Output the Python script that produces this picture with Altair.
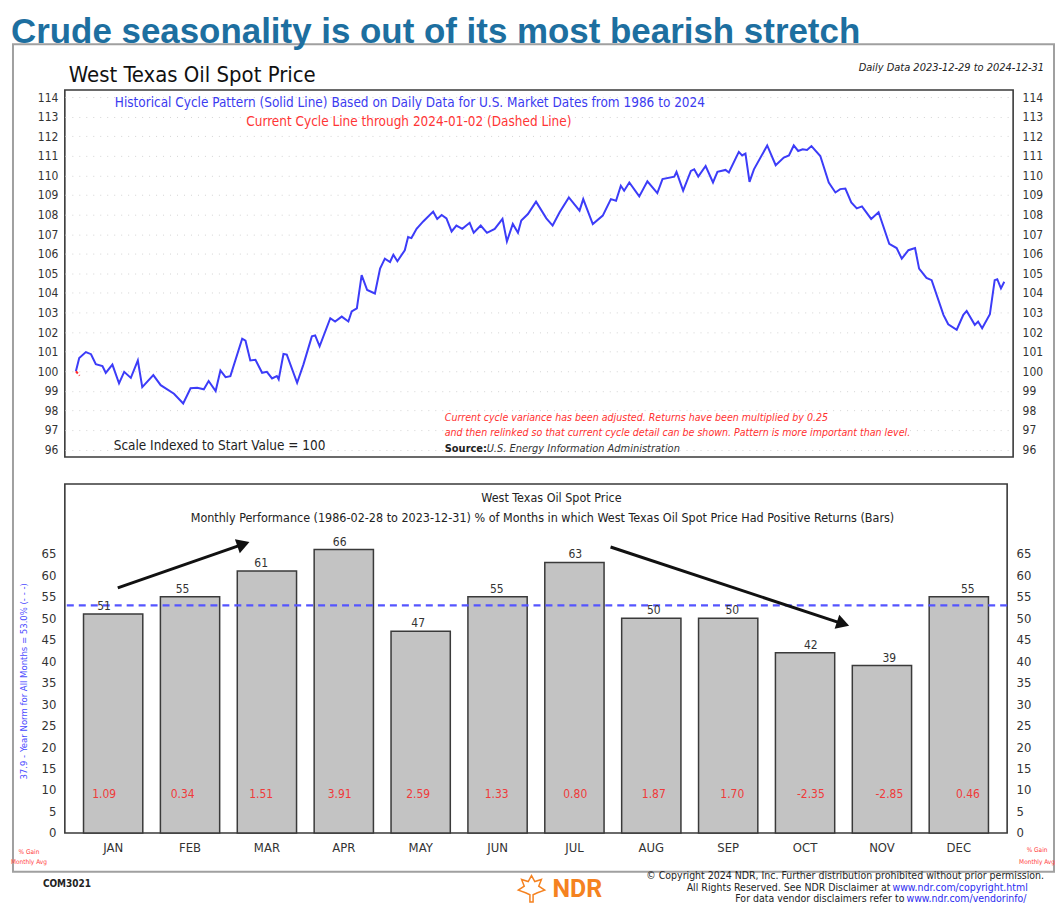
import math
import altair as alt
import pandas as pd

NARROW = "Liberation Sans Narrow, Arial Narrow, DejaVu Sans Condensed, sans-serif"
HEAD = "Liberation Sans"

# ---------------- data: historical cycle (trading-day index, indexed value) ----------------
line_idx = [
    0.0, 0.9, 2.7, 4.1, 5.4, 7.2, 8.1, 9.9, 11.7, 13.1,
    14.9, 16.8, 18.0, 21.0, 23.0, 26.6, 29.1, 31.1, 32.9, 34.7,
    36.0, 37.9, 39.2, 40.6, 41.9, 45.1, 46.0, 47.3, 48.7, 50.5,
    51.8, 53.2, 54.5, 55.0, 56.3, 57.2, 60.0, 61.7, 64.0, 64.9,
    66.1, 69.0, 70.3, 72.1, 73.9, 74.8, 76.2, 77.5, 79.0, 81.1,
    82.5, 83.8, 85.2, 86.1, 87.2, 89.2, 90.1, 91.0, 92.4, 94.2,
    96.9, 98.0, 99.2, 100.5, 101.9, 103.2, 104.8, 106.8, 107.9, 109.8,
    111.5, 113.6, 115.7, 116.9, 118.5, 119.9, 120.8, 122.6, 124.8, 127.6,
    129.3, 131.2, 133.7, 136.6, 137.6, 140.2, 142.9, 145.1, 146.5, 147.8,
    148.7, 150.1, 152.8, 155.0, 157.7, 159.1, 162.3, 162.9, 164.7, 166.8,
    167.7, 168.8, 170.8, 172.8, 174.0, 176.2, 177.1, 179.8, 180.7, 181.6,
    182.7, 183.9, 187.5, 189.8, 192.0, 193.4, 194.7, 195.9, 197.1, 198.3,
    199.5, 201.9, 204.2, 206.0, 207.3, 208.7, 210.3, 211.8, 213.2, 215.7,
    217.7, 220.6, 222.6, 224.0, 225.8, 227.6, 228.7, 230.7, 232.1, 235.3,
    236.6, 238.9, 240.7, 241.6, 243.8, 244.7, 245.8, 247.9, 249.2, 249.9,
    250.9, 251.8,
]
line_val = [
    100.00, 100.68, 100.98, 100.87, 100.36, 100.26, 99.92, 100.34, 99.38, 99.97,
    99.66, 100.55, 99.19, 99.80, 99.29, 98.85, 98.35, 99.13, 99.16, 99.08,
    99.50, 98.99, 100.04, 99.70, 99.75, 101.66, 101.56, 100.55, 100.58, 99.92,
    99.97, 99.63, 99.75, 99.58, 100.88, 100.85, 99.41, 100.34, 101.78, 101.83,
    101.27, 102.71, 102.54, 102.79, 102.54, 103.05, 103.21, 104.91, 104.15, 103.97,
    105.24, 105.75, 105.58, 105.95, 105.62, 106.18, 106.85, 106.80, 107.27, 107.65,
    108.15, 107.78, 107.98, 107.81, 107.14, 107.44, 107.27, 107.58, 107.07, 107.44,
    107.07, 107.27, 107.78, 106.63, 107.52, 107.07, 107.70, 108.03, 108.66, 107.81,
    107.44, 108.12, 108.88, 108.20, 108.79, 107.52, 107.95, 108.79, 108.71, 109.47,
    109.22, 109.64, 108.93, 109.70, 109.10, 109.81, 109.94, 110.18, 109.22, 110.23,
    110.31, 109.94, 110.48, 109.64, 110.18, 110.28, 110.15, 111.20, 111.02, 111.12,
    109.67, 110.31, 111.53, 110.52, 110.91, 111.02, 111.53, 111.25, 111.33, 111.30,
    111.50, 110.99, 109.64, 109.13, 109.30, 109.33, 108.62, 108.32, 108.42, 107.78,
    108.12, 106.51, 106.29, 105.75, 106.18, 106.29, 105.24, 104.77, 104.65, 102.88,
    102.40, 102.12, 102.88, 103.08, 102.37, 102.54, 102.20, 102.91, 104.65, 104.70,
    104.23, 104.57,
]
# current cycle (dashed red), through 2024-01-02
cur_idx = [0.0, 1.0]
cur_val = [100.0, 99.78]

# x-axis ticks (trading-day index of month boundaries)
month_tick_idx = [0, 21, 41, 61, 83, 105, 124, 146, 168, 188, 211, 231, 252]
month_tick_lab = ["2024", "Feb", "Mar", "Apr", "May", "Jun", "Jul", "Aug", "Sep", "Oct", "Nov", "Dec", "2025"]
top_y_ticks = list(range(96, 115))

# ---------------- data: monthly performance bars ----------------
months = ["JAN", "FEB", "MAR", "APR", "MAY", "JUN", "JUL", "AUG", "SEP", "OCT", "NOV", "DEC"]
pct_positive = [51, 55, 61, 66, 47, 55, 63, 50, 50, 42, 39, 55]
avg_gain = [1.09, 0.34, 1.51, 3.91, 2.59, 1.33, 0.80, 1.87, 1.70, -2.35, -2.85, 0.46]
norm_pct = 53.0
bot_y_ticks = list(range(0, 70, 5))

# annotation arrows (month position where bar i is centred at i, percent)
arrow_tail = [(0.06, 57.1), (6.47, 66.6)]
arrow_tip = [(1.78, 67.8), (9.58, 48.2)]

# ---------------- layout constants ----------------
TOP_W, TOP_H = 951, 368
BOT_W, BOT_H = 945, 350
P_IN, P_OUT = 0.229, 0.243
BOT_YMAX = 81.3

line_df = pd.DataFrame({"idx": line_idx, "val": line_val})
cur_df = pd.DataFrame({"idx": cur_idx, "val": cur_val})
bar_df = pd.DataFrame({
    "month": months,
    "pct": pct_positive,
    "gain_lbl": [f"{g:.2f}" for g in avg_gain],
})
norm_df = pd.DataFrame({"norm": [norm_pct]})
one = pd.DataFrame({"k": [0]})

# arrow geometry in data units
half = P_OUT + (1 - P_IN) / 2
ax_lo, ax_hi = -half, len(months) - 1 + half
px_m = BOT_W / (ax_hi - ax_lo)
px_p = BOT_H / BOT_YMAX
rows = []
for (tx, ty), (hx, hy) in zip(arrow_tail, arrow_tip):
    dx = (hx - tx) * px_m
    dy = -(hy - ty) * px_p
    L = math.hypot(dx, dy)
    back = 7.0
    cx = hx - back * dx / L / px_m
    cy = hy + back * dy / L / px_p
    ang = math.degrees(math.atan2(dx, -dy)) % 360
    rows.append({"x0": tx, "y0": ty, "xh": cx, "yh": cy, "ang": ang})
arrow_df = pd.DataFrame(rows)


def txt(s, x, y, size=12, color="#222", align="left", baseline="middle",
        font=NARROW, weight="normal", style="normal", angle=None):
    kw = dict(text=s, align=align, baseline=baseline, fontSize=size, color=color,
              font=font, fontWeight=weight, fontStyle=style)
    if angle is not None:
        kw["angle"] = angle
    return alt.Chart(one).mark_text(**kw).encode(x=alt.value(x), y=alt.value(y))


# ---------------- top chart ----------------
x_top = alt.Scale(domain=[-3.0, 254.2], nice=False, zero=False)
y_top = alt.Scale(domain=[95.62, 114.36], nice=False, zero=False)
label_expr = ("[" + ",".join(f"'{l}'" for l in month_tick_lab) + "][indexof(["
              + ",".join(str(v) for v in month_tick_idx) + "], datum.value)]")

anchor = alt.Chart(one).mark_rect(opacity=0).encode(
    x=alt.value(-56), x2=alt.value(-54), y=alt.value(-80), y2=alt.value(-78))
frame = alt.Chart(one).mark_rect(fill="white", fillOpacity=0, stroke="#a0a0a0", strokeWidth=2).encode(
    x=alt.value(-52), x2=alt.value(992), y=alt.value(-46), y2=alt.value(784))

line = alt.Chart(line_df).mark_line(color="#3c3cf8", strokeWidth=2).encode(
    x=alt.X("idx:Q", scale=x_top, axis=alt.Axis(
        values=month_tick_idx, labelExpr=label_expr, title=None, grid=True,
        gridDash=[1, 4], gridColor="#b0b0b0", ticks=False, domain=False,
        labelFlush=False, labelOverlap=False, labelPadding=5, labelFontSize=13,
        labelFont=NARROW, labelColor="#333")),
    y=alt.Y("val:Q", scale=y_top, axis=alt.Axis(
        values=top_y_ticks, title=None, grid=True, gridDash=[1, 6], gridColor="#d4d4d4",
        ticks=False, domain=False, labelPadding=7, labelFontSize=12,
        labelFont=NARROW, labelColor="#333")),
)
right_axis = alt.Chart(line_df).mark_line(strokeOpacity=0).encode(
    x=alt.X("idx:Q", scale=x_top, axis=None),
    y=alt.Y("val:Q", scale=y_top, axis=alt.Axis(
        orient="right", values=top_y_ticks, title=None, grid=False, ticks=False,
        domain=False, labelPadding=9, labelFontSize=12, labelFont=NARROW, labelColor="#333")),
)
cur = alt.Chart(cur_df).mark_line(color="#ff2a2a", strokeWidth=2, strokeDash=[3, 2]).encode(
    x=alt.X("idx:Q", scale=x_top, axis=None),
    y=alt.Y("val:Q", scale=y_top, axis=None),
)

top_texts = [
    txt("Crude seasonality is out of its most bearish stretch", -54, -47.5, size=35,
        color="#1d6fa0", font=HEAD, weight="bold", baseline="alphabetic"),
    txt("West Texas Oil Spot Price", 4, -8, size=22, color="#111", baseline="alphabetic"),
    txt("Daily Data 2023-12-29 to 2024-12-31", 982, -19, size=11, color="#222",
        align="right", style="italic", baseline="alphabetic"),
    txt("Historical Cycle Pattern (Solid Line) Based on Daily Data for U.S. Market Dates from 1986 to 2024",
        346, 13, size=13.5, color="#3b3bf0", align="center"),
    txt("Current Cycle Line through 2024-01-02 (Dashed Line)", 345, 32, size=13.5,
        color="#ff3535", align="center"),
    txt("Scale Indexed to Start Value = 100", 49, 357, size=13.5, color="#222"),
    txt("Current cycle variance has been adjusted. Returns have been multiplied by 0.25",
        381, 329, size=10.6, color="#ff3030", style="italic"),
    txt("and then relinked so that current cycle detail can be shown. Pattern is more important than level.",
        381, 344, size=10.6, color="#ff3030", style="italic"),
    txt("Source:", 381, 360, size=11, color="#222", weight="bold"),
    txt("U.S. Energy Information Administration", 423, 360, size=11, color="#333", style="italic"),
]

top = alt.layer(anchor, frame, line, right_axis, cur, *top_texts).properties(
    width=TOP_W, height=TOP_H).resolve_axis(y="independent")

# ---------------- bottom chart ----------------
band = alt.Scale(domain=months, paddingInner=P_IN, paddingOuter=P_OUT)
ys_b = alt.Scale(domain=[0, BOT_YMAX], nice=False)
x_arrow = alt.Scale(domain=[ax_lo, ax_hi], nice=False, zero=False)

bars = alt.Chart(bar_df).mark_bar(color="#c3c3c3", stroke="#3a3a3a", strokeWidth=1.5).encode(
    x=alt.X("month:N", sort=months, scale=band, axis=alt.Axis(
        title=None, labelAngle=0, ticks=False, domain=False, labelPadding=9,
        labelFontSize=13, labelFont=NARROW, labelColor="#333")),
    y=alt.Y("pct:Q", scale=ys_b, axis=alt.Axis(
        values=bot_y_ticks, title=None, grid=False, ticks=False, domain=False,
        labelPadding=9, labelFontSize=13, labelFont=NARROW, labelColor="#333")),
)
bars_r = alt.Chart(bar_df).mark_bar(opacity=0).encode(
    x=alt.X("month:N", sort=months, scale=band, axis=None),
    y=alt.Y("pct:Q", scale=ys_b, axis=alt.Axis(
        orient="right", values=bot_y_ticks, title=None, grid=False, ticks=False,
        domain=False, labelPadding=9, labelFontSize=13, labelFont=NARROW, labelColor="#333")),
)
bar_lbl = alt.Chart(bar_df).mark_text(dy=-8, fontSize=12, color="#333", font=NARROW).encode(
    x=alt.X("month:N", sort=months, scale=band, axis=None),
    y=alt.Y("pct:Q", scale=ys_b, axis=None),
    text="pct:Q",
)
gain_lbl = alt.Chart(bar_df).mark_text(fontSize=12, color="#f03a3a", font=NARROW).encode(
    x=alt.X("month:N", sort=months, scale=band, axis=None),
    y=alt.value(311),
    text="gain_lbl:N",
)
norm_rule = alt.Chart(norm_df).mark_rule(color="#5555ff", strokeWidth=2.4, strokeDash=[7, 5]).encode(
    y=alt.Y("norm:Q", scale=ys_b, axis=None))
arrow_line = alt.Chart(arrow_df).mark_rule(color="#111", strokeWidth=3).encode(
    x=alt.X("x0:Q", scale=x_arrow, axis=None), x2="xh:Q",
    y=alt.Y("y0:Q", scale=ys_b, axis=None), y2="yh:Q",
)
arrow_head = alt.Chart(arrow_df).mark_point(shape="triangle-up", filled=True, size=220,
                                             color="#111", opacity=1).encode(
    x=alt.X("xh:Q", scale=x_arrow, axis=None),
    y=alt.Y("yh:Q", scale=ys_b, axis=None),
    angle=alt.Angle("ang:Q", scale=None),
)

LEAF = ("M0,-1 L0.25,-0.55 L0.75,-0.7 L0.55,-0.2 L1,0.1 L0.45,0.3 L0.12,0.45 L0.12,1 "
        "L-0.12,1 L-0.12,0.45 L-0.45,0.3 L-1,0.1 L-0.55,-0.2 L-0.75,-0.7 L-0.25,-0.55 Z")
logo = alt.Chart(one).mark_point(shape=LEAF, size=700, filled=False, color="#f58220",
                                 strokeWidth=1.5, opacity=1).encode(
    x=alt.value(468), y=alt.value(406))

bot_texts = [
    txt("West Texas Oil Spot Price", 488, 14, size=12.5, color="#222", align="center"),
    txt("Monthly Performance (1986-02-28 to 2023-12-31) % of Months in which West Texas Oil Spot Price Had Positive Returns (Bars)",
        479, 34, size=12.5, color="#222", align="center"),
    txt("37.9 - Year Norm for All Months = 53.0% (- - -)", -41, 198, size=9.5,
        color="#4a4aff", align="center", angle=270),
    txt("% Gain", -36, 369, size=6.5, color="#ff3b3b", align="center"),
    txt("Monthly Avg", -36, 379, size=6.5, color="#ff3b3b", align="center"),
    txt("% Gain", 975, 367, size=6.5, color="#ff3b3b", align="center"),
    txt("Monthly Avg", 975, 379, size=6.5, color="#ff3b3b", align="center"),
    txt("COM3021", -22, 401, size=10, color="#222", weight="bold"),
    txt("NDR", 514, 406, size=25, color="#f58220", weight="bold", align="center", font="Roboto"),
    txt("© Copyright 2024 NDR, Inc. Further distribution prohibited without prior permission.",
        982, 393, size=10.5, color="#222", align="right"),
    txt("All Rights Reserved. See NDR Disclaimer at ", 828, 405, size=10.5, color="#222", align="right"),
    txt("www.ndr.com/copyright.html", 830, 405, size=10.5, color="#2a2af0"),
    txt("For data vendor disclaimers refer to ", 842, 416, size=10.5, color="#222", align="right"),
    txt("www.ndr.com/vendorinfo/", 844, 416, size=10.5, color="#2a2af0"),
]

bottom = alt.layer(bars, bars_r, norm_rule, bar_lbl, gain_lbl, arrow_line, arrow_head,
                   logo, *bot_texts).properties(width=BOT_W, height=BOT_H).resolve_scale(
    x="independent").resolve_axis(y="independent")

chart = alt.vconcat(top, bottom, spacing=27, bounds="flush").properties(
    padding=0, background="white").configure_view(stroke="#3a3a3a", strokeWidth=1.6)

chart.save("out.html", embed_options={"renderer": "svg", "actions": False})
